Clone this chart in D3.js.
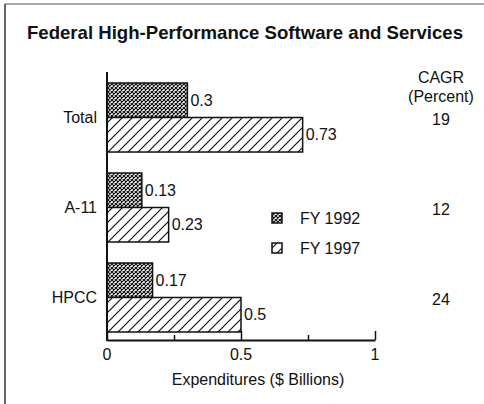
<!DOCTYPE html>
<html>
<head>
<meta charset="utf-8">
<script src="https://cdn.jsdelivr.net/npm/d3@7"></script>
<style>
  html, body { margin: 0; padding: 0; background: #fff; }
  svg { display: block; font-family: "Liberation Sans", Arial, Helvetica, sans-serif; }
</style>
</head>
<body>
<svg id="chart" width="484" height="404"></svg>
<script>
// Program categories, top to bottom
const categories = ["Total", "A-11", "HPCC"];
// Expenditures in $ billions
const fy1992 = [0.3, 0.13, 0.17];
const fy1997 = [0.73, 0.23, 0.5];
// Compound annual growth rate, percent
const cagr = [19, 12, 24];
const seriesNames = ["FY 1992", "FY 1997"];
const xTicks = [0, 0.25, 0.5, 0.75, 1];
const xTickLabels = ["0", "", "0.5", "", "1"];

const FS = 16;
const svg = d3.select("#chart");

// pattern fills
const defs = svg.append("defs");
const cross = defs.append("pattern")
  .attr("id", "cross").attr("patternUnits", "userSpaceOnUse")
  .attr("width", 4).attr("height", 4);
cross.append("rect").attr("width", 4).attr("height", 4).attr("fill", "#fff");
cross.append("path").attr("d", "M0,0L4,4M4,0L0,4")
  .attr("stroke", "#111").attr("stroke-width", 1.2);

const hatch = defs.append("pattern")
  .attr("id", "hatch").attr("patternUnits", "userSpaceOnUse")
  .attr("width", 10).attr("height", 10);
hatch.append("rect").attr("width", 10).attr("height", 10).attr("fill", "#fff");
hatch.append("path").attr("d", "M0,10L10,0M-3,3L3,-3M7,13L13,7")
  .attr("stroke", "#111").attr("stroke-width", 1.2);

const fills = ["url(#cross)", "url(#hatch)"];

// frame lines (left and top)
svg.append("line").attr("x1", 5).attr("x2", 5).attr("y1", 4).attr("y2", 404)
  .attr("stroke", "#333").attr("stroke-width", 1.5);
svg.append("line").attr("x1", 5).attr("x2", 484).attr("y1", 4).attr("y2", 4)
  .attr("stroke", "#555").attr("stroke-width", 1.2);

// title
svg.append("text").attr("x", 245).attr("y", 39)
  .attr("text-anchor", "middle").attr("font-size", 18.6).attr("font-weight", "bold")
  .attr("fill", "#111")
  .text("Federal High-Performance Software and Services");

// scales
const x = d3.scaleLinear().domain([0, 1]).range([107, 375]);
const y = d3.scaleBand().domain(categories).range([83, 332]).paddingInner(0.233).paddingOuter(0);
const ySub = d3.scaleBand().domain(seriesNames).range([0, y.bandwidth()]);

const rows = categories.map((c, i) => ({ cat: c, vals: [fy1992[i], fy1997[i]], cagr: cagr[i] }));

// bars
const g = svg.append("g");
rows.forEach(r => {
  r.vals.forEach((v, j) => {
    const y0 = y(r.cat) + ySub(seriesNames[j]);
    g.append("rect")
      .attr("x", x(0)).attr("y", y0)
      .attr("width", x(v) - x(0)).attr("height", ySub.bandwidth())
      .attr("fill", fills[j]).attr("stroke", "#111").attr("stroke-width", 1.5);
    g.append("text")
      .attr("x", x(v) + 3).attr("y", y0 + ySub.bandwidth() / 2)
      .attr("dy", "0.35em").attr("font-size", FS).attr("fill", "#111")
      .text(v);
  });
  // category label
  g.append("text")
    .attr("x", 97).attr("y", y(r.cat) + y.bandwidth() / 2)
    .attr("dy", "0.35em").attr("text-anchor", "end").attr("font-size", FS).attr("fill", "#111")
    .text(r.cat);
  // CAGR value
  g.append("text")
    .attr("x", 441).attr("y", y(r.cat) + y.bandwidth() / 2 + 2)
    .attr("dy", "0.35em").attr("text-anchor", "middle").attr("font-size", FS).attr("fill", "#111")
    .text(r.cagr);
});

// CAGR column header
svg.append("text").attr("x", 441).attr("y", 77).attr("dy", "0.35em")
  .attr("text-anchor", "middle").attr("font-size", FS).attr("fill", "#111").text("CAGR");
svg.append("text").attr("x", 441).attr("y", 96).attr("dy", "0.35em")
  .attr("text-anchor", "middle").attr("font-size", FS).attr("fill", "#111").text("(Percent)");

// vertical axis line
svg.append("line").attr("x1", x(0)).attr("x2", x(0)).attr("y1", 72).attr("y2", 341)
  .attr("stroke", "#111").attr("stroke-width", 2);

// x axis: baseline with upward ticks
const axisY = 340;
const xAxis = d3.axisTop(x).tickValues(xTicks)
  .tickFormat(() => "").tickSizeInner(0).tickSizeOuter(0);
const ax = svg.append("g").attr("transform", `translate(0,${axisY})`).call(xAxis);
ax.select(".domain").attr("stroke", "#111").attr("stroke-width", 2);
ax.selectAll(".tick line")
  .attr("y2", (d, i) => xTickLabels[i] === "" ? -5 : -9)
  .attr("stroke", "#111").attr("stroke-width", 1.5);
ax.selectAll(".tick text").remove();

// tick labels below baseline
svg.append("g").selectAll("text").data(xTicks).join("text")
  .attr("x", d => x(d)).attr("y", 354).attr("dy", "0.35em")
  .attr("text-anchor", "middle").attr("font-size", FS).attr("fill", "#111")
  .text((d, i) => xTickLabels[i]);

// axis title
svg.append("text").attr("x", 258).attr("y", 379).attr("dy", "0.35em")
  .attr("text-anchor", "middle").attr("font-size", FS).attr("fill", "#111")
  .text("Expenditures ($ Billions)");

// legend
const legend = svg.append("g");
seriesNames.forEach((s, j) => {
  const ly = 218 + j * 30;
  legend.append("rect").attr("x", 272).attr("y", ly - 5).attr("width", 10).attr("height", 10)
    .attr("fill", fills[j]).attr("stroke", "#111").attr("stroke-width", 1.5);
  legend.append("text").attr("x", 300).attr("y", ly).attr("dy", "0.35em")
    .attr("font-size", FS).attr("fill", "#111").text(s);
});
</script>
</body>
</html>
